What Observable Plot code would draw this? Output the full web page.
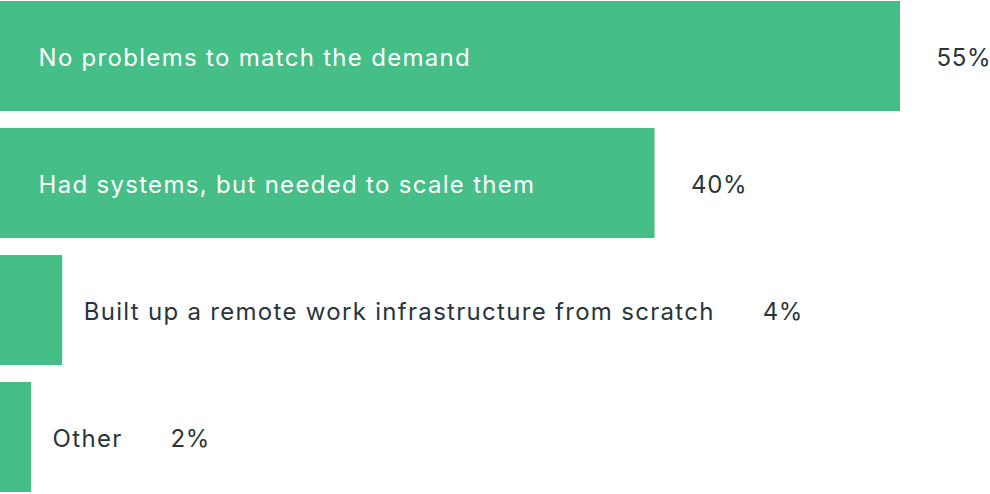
<!DOCTYPE html>
<html>
<head>
<meta charset="utf-8">
<script src="https://cdn.jsdelivr.net/npm/d3@7"></script>
<script src="https://cdn.jsdelivr.net/npm/@observablehq/plot@0.6"></script>
<style>
  html, body { margin: 0; padding: 0; background: #fff; }
  #chart { width: 990px; height: 494px; }
  #chart text { letter-spacing: 1.3px; }
  #chart text.pct { letter-spacing: 0.6px; }
</style>
</head>
<body>
<div id="chart"></div>
<script>
const categories = [
  "No problems to match the demand",
  "Had systems, but needed to scale them",
  "Built up a remote work infrastructure from scratch",
  "Other"
];
const values = [55, 40, 3.8, 1.9];
const valueLabels = ["55%", "40%", "4%", "2%"];

const FONT = "Inter, 'Noto Sans', sans-serif";
const FONT_SIZE = 24;
const LS = 1.3;
const ctx = document.createElement("canvas").getContext("2d");
ctx.font = `${FONT_SIZE}px Inter`;
const textWidth = s => ctx.measureText(s).width + s.length * LS;

const data = categories.map((c, i) => ({
  category: c,
  value: values[i],
  label: valueLabels[i]
}));

const W = 990, H = 494;
const xMax = 60.5;
const pxPerUnit = W / xMax;
const fitsInside = d => textWidth(d.category) + 60 < d.value * pxPerUnit;
const ink = "#28363c";

const plot = Plot.plot({
  width: W,
  height: H,
  margin: 0,
  x: { domain: [0, xMax], axis: null },
  y: { domain: categories, axis: null, paddingInner: 0.13, paddingOuter: 0 },
  style: { fontFamily: FONT, background: "#fff" },
  marks: [
    Plot.barX(data, { x: "value", y: "category", fill: "#45be87" }),
    Plot.text(data.filter(fitsInside), {
      x: 0, y: "category", text: "category", textAnchor: "start", dx: 38, dy: 2,
      fill: "#ffffff", fontSize: FONT_SIZE, fontFamily: FONT
    }),
    Plot.text(data.filter(d => !fitsInside(d)), {
      x: "value", y: "category", text: "category", textAnchor: "start", dx: 21, dy: 2,
      fill: ink, fontSize: FONT_SIZE, fontFamily: FONT
    }),
    Plot.text(data.filter(fitsInside), {
      x: "value", y: "category", text: "label", textAnchor: "start", dx: 36, dy: 2,
      fill: ink, fontSize: FONT_SIZE, fontFamily: FONT
    }),
    Plot.text(data.filter(d => !fitsInside(d)), {
      x: d => d.value + (21 + textWidth(d.category) + 48) / pxPerUnit,
      y: "category", text: "label", textAnchor: "start", dy: 2,
      fill: ink, fontSize: FONT_SIZE, fontFamily: FONT
    })
  ]
});
d3.select(plot).selectAll("text")
  .filter(function () { return /%$/.test(this.textContent); })
  .classed("pct", true);
document.getElementById("chart").appendChild(plot);
</script>
</body>
</html>
